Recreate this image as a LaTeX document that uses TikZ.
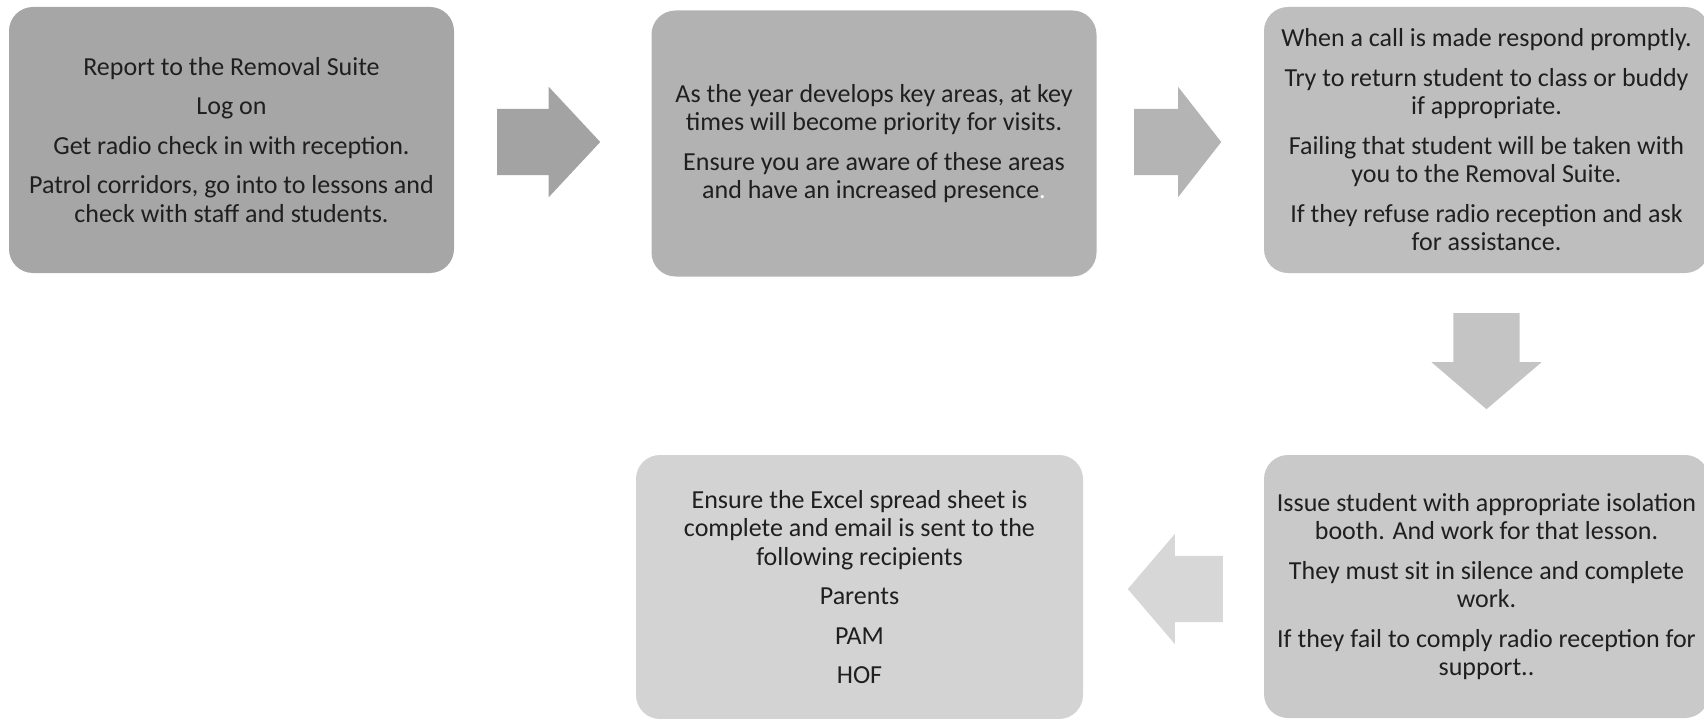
\documentclass[tikz,border=0pt]{standalone}
\usepackage{fontspec}
\setmainfont{Carlito}
\usetikzlibrary{shapes.arrows}
\definecolor{shadeA}{HTML}{A6A6A6}
\definecolor{shadeAa}{HTML}{A3A3A3}
\definecolor{shadeB}{HTML}{B2B2B2}
\definecolor{shadeBa}{HTML}{B4B4B4}
\definecolor{shadeC}{HTML}{BEBEBE}
\definecolor{shadeCa}{HTML}{C4C4C4}
\definecolor{shadeD}{HTML}{C9C9C9}
\definecolor{shadeDa}{HTML}{D7D7D7}
\definecolor{shadeE}{HTML}{D3D3D3}
\tikzset{
  stepbox/.style={rectangle,rounded corners=24pt,minimum width=445pt,minimum height=266pt,
    inner sep=0pt,align=center,text=black!88,font=\fontsize{26}{28.5}\selectfont},
  blockarrow/.style={single arrow,single arrow head extend=22pt,minimum width=0pt,
    inner xsep=0pt,inner ysep=33pt,draw=none,anchor=tail},
}
\begin{document}
\begin{tikzpicture}[x=1pt,y=-1pt]
\useasboundingbox (0,0) rectangle (1704,719);
\node[stepbox,fill=shadeA] (report) at (231.5,140) {Report to the Removal Suite\\[11pt]
Log on\\[11pt]
Get radio check in with reception.\\[11pt]
Patrol corridors, go into to lessons and\\
check with staff and students.};
\node[stepbox,fill=shadeB] (visits) at (874,143.5) {As the year develops key areas, at key\\
times will become priority for visits.\\[11pt]
Ensure you are aware of these areas\\
and have an increased presence\textcolor{white}{.}};
\node[stepbox,fill=shadeC] (callout) at (1486.5,140) {When a call is made respond promptly.\\[11pt]
Try to return student to class or buddy\\
if appropriate.\\[11pt]
Failing that student will be taken with\\
you to the Removal Suite.\\[11pt]
If they refuse radio reception and ask\\
for assistance.};
\node[stepbox,fill=shadeD,minimum height=263pt] (isolate) at (1486.5,586.5) {Issue student with appropriate isolation\\
booth. And work for that lesson.\\[11pt]
They must sit in silence and complete\\
work.\\[11pt]
If they fail to comply radio reception for\\
support..};
\node[stepbox,fill=shadeE,minimum width=447pt,minimum height=264pt] (email) at (859.5,587) {Ensure the Excel spread sheet is\\
complete and email is sent to the\\
following recipients\\[11pt]
Parents\\[11pt]
PAM\\[11pt]
HOF};
\node[blockarrow,fill=shadeAa,minimum height=103pt,single arrow tip angle=94] (arr1) at (497,142) {};
\node[blockarrow,fill=shadeBa,minimum height=87pt,single arrow tip angle=104] (arr2) at (1134,142) {};
\node[blockarrow,fill=shadeCa,single arrow tip angle=99,shape border rotate=270,
  inner xsep=33pt,inner ysep=0pt,minimum height=96pt] (arr3) at (1486.5,313) {};
\node[blockarrow,fill=shadeDa,minimum height=95pt,single arrow tip angle=99,shape border rotate=180] (arr4) at (1223,589) {};
\end{tikzpicture}
\end{document}
